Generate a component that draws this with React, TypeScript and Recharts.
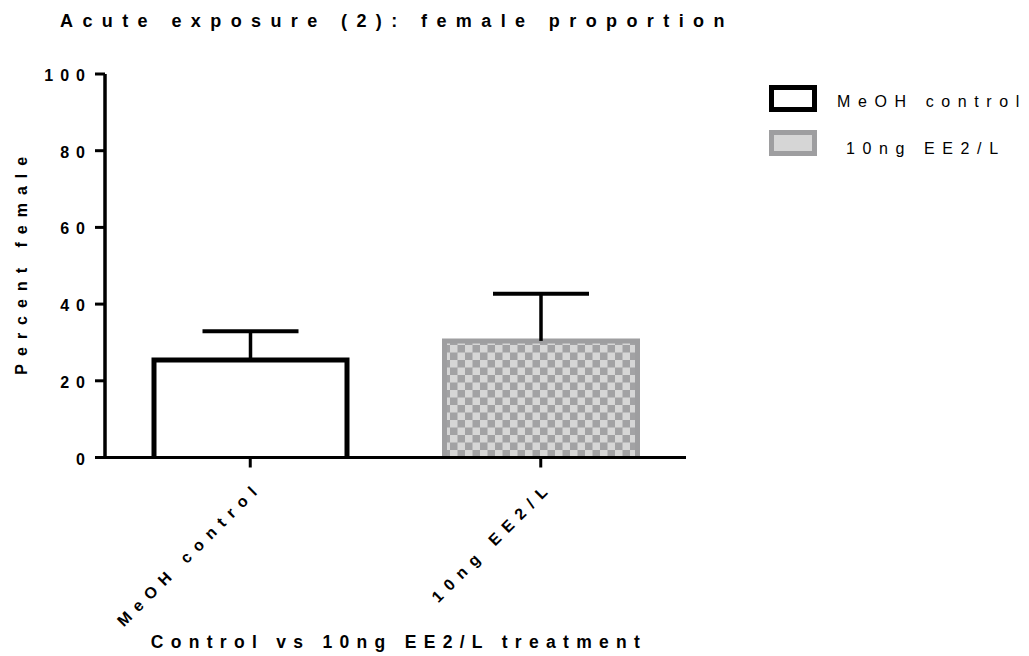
import React from 'react';
import { BarChart, Bar, XAxis, YAxis, Legend } from 'recharts';

const categories = ['MeOH control', '10ng EE2/L'];
const meanPercent = [25.4, 30.4];
const semPercent = [7.5, 12.3];
const yTicks = [0, 20, 40, 60, 80, 100];

const chartTitle = 'Acute exposure (2): female proportion';
const yTitle = 'Percent female';
const xTitle = 'Control vs 10ng EE2/L treatment';

const data = categories.map((name, i) => ({ name, mean: meanPercent[i], sem: semPercent[i] }));

const FONT = '"Liberation Sans", Arial, Helvetica, sans-serif';

// white open bar for control, checkered grey bar for the EE2 group
const barLook = [
  { fill: '#ffffff', stroke: '#000000', legendFill: '#ffffff' },
  { fill: 'url(#checker)', stroke: '#9e9ea0', legendFill: '#d6d6d6' },
];

function MeanBar(props: any) {
  const { x, y, width, height, index } = props;
  if (!height) return null;
  const look = barLook[index] ?? barLook[0];
  const bottom = y + height;
  return (
    <g>
      {index === 1 && (
        <defs>
          <pattern id="checker" patternUnits="userSpaceOnUse" width={15} height={15}>
            <rect width={15} height={15} fill="#a2a2a4" />
            <rect width={7.5} height={7.5} fill="#d6d6d6" />
            <rect x={7.5} y={7.5} width={7.5} height={7.5} fill="#d6d6d6" />
          </pattern>
        </defs>
      )}
      <rect x={x} y={y} width={width} height={height} fill={look.fill} />
      <path
        d={`M${x},${bottom}L${x},${y}L${x + width},${y}L${x + width},${bottom}`}
        fill="none"
        stroke={look.stroke}
        strokeWidth={5}
      />
    </g>
  );
}

// upper error bar only, stacked on top of the mean
function SemBar(props: any) {
  const { x, y, width, height } = props;
  if (!height) return null;
  const cx = x + width / 2;
  return (
    <g>
      <line x1={cx} y1={y + height} x2={cx} y2={y} stroke="#000" strokeWidth={3.5} />
      <line x1={cx - 48} y1={y} x2={cx + 48} y2={y} stroke="#000" strokeWidth={4} />
    </g>
  );
}

function YTick({ x, y, payload }: any) {
  return (
    <text x={x} y={y} dy={7} textAnchor="end" fontFamily={FONT} fontWeight="bold" fontSize={16} letterSpacing={7} fill="#000">
      {payload.value}
    </text>
  );
}

function XTick({ x, y, payload }: any) {
  const ax = x + 13;
  const ay = y + 18.5;
  return (
    <text x={ax} y={ay} transform={`rotate(-45, ${ax}, ${ay})`} textAnchor="end" fontFamily={FONT} fontWeight="bold" fontSize={16} letterSpacing={7.7} fill="#000">
      {payload.value}
    </text>
  );
}

function YTitle({ viewBox }: any) {
  const cx = 27;
  const cy = viewBox.y + viewBox.height / 2 - 4;
  return (
    <text x={cx} y={cy} transform={`rotate(-90, ${cx}, ${cy})`} textAnchor="middle" fontFamily={FONT} fontWeight="bold" fontSize={16} letterSpacing={8} fill="#000">
      {yTitle}
    </text>
  );
}

function XTitle({ viewBox }: any) {
  return (
    <text x={viewBox.x + viewBox.width / 2 + 3.5} y={648} textAnchor="middle" fontFamily={FONT} fontWeight="bold" fontSize={17.5} letterSpacing={7.3} fill="#000">
      {xTitle}
    </text>
  );
}

function LegendBoxes() {
  return (
    <svg width={269} height={90} style={{ overflow: 'visible' }}>
      {categories.map((name, i) => (
        <g key={name}>
          <rect x={11.5} y={7.5 + i * 45} width={43} height={22 - i} fill={barLook[i].legendFill} stroke={barLook[i].stroke} strokeWidth={5} />
          <text x={i === 0 ? 77 : 86} y={27.3 + i * 46.5} fontFamily={FONT} fontSize={16} letterSpacing={7.6} fill="#000">
            {name}
          </text>
        </g>
      ))}
    </svg>
  );
}

export default function App() {
  return (
    <div style={{ position: 'absolute', left: 0, top: 0, width: 1029, height: 656, background: '#fff' }}>
      <svg width={1029} height={40} style={{ position: 'absolute', left: 0, top: 0 }}>
        <text x={60} y={27} fontFamily={FONT} fontWeight="bold" fontSize={18} letterSpacing={9.4} fill="#000">
          {chartTitle}
        </text>
      </svg>
      <div style={{ position: 'absolute', left: 0, top: 0 }}>
        <BarChart width={1029} height={656} data={data} margin={{ top: 74, right: 343, bottom: 8.5, left: 0 }} barSize={193}>
          <XAxis
            dataKey="name"
            height={190}
            tickSize={10}
            axisLine={{ stroke: '#000', strokeWidth: 3 }}
            tickLine={{ stroke: '#000', strokeWidth: 3 }}
            tick={<XTick />}
            interval={0}
            label={(p: any) => <XTitle {...p} />}
          />
          <YAxis
            width={105}
            domain={[0, 100]}
            ticks={yTicks}
            tickSize={10}
            tickMargin={3}
            axisLine={{ stroke: '#000', strokeWidth: 3.5 }}
            tickLine={{ stroke: '#000', strokeWidth: 3 }}
            tick={<YTick />}
            label={(p: any) => <YTitle {...p} />}
          />
          <Bar dataKey="mean" stackId="s" shape={<MeanBar />} isAnimationActive={false} />
          <Bar dataKey="sem" stackId="s" shape={<SemBar />} isAnimationActive={false} />
          <Legend
            layout="vertical"
            align="center"
            verticalAlign="middle"
            wrapperStyle={{ left: 760, top: 80, width: 269, height: 90 }}
            content={() => <LegendBoxes />}
          />
        </BarChart>
      </div>
    </div>
  );
}
